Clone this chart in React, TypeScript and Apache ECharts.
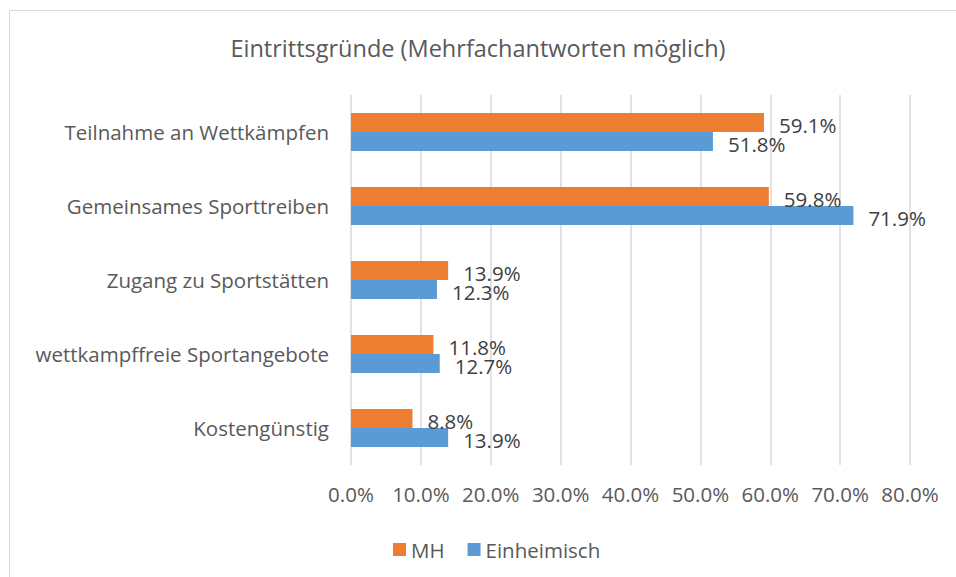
import React, { useEffect, useRef } from "react";
import * as echarts from "echarts";

const categories = [
  "Teilnahme an Wettkämpfen",
  "Gemeinsames Sporttreiben",
  "Zugang zu Sportstätten",
  "wettkampffreie Sportangebote",
  "Kostengünstig",
];
const mhValues = [59.1, 59.8, 13.9, 11.8, 8.8];
const einheimischValues = [51.8, 71.9, 12.3, 12.7, 13.9];
const seriesNames = ["MH", "Einheimisch"];
const titleText = "Eintrittsgründe (Mehrfachantworten möglich)";

const FONT = "'Open Sans', sans-serif";
const TEXT = "#595959";

export default function App() {
  const ref = useRef<HTMLDivElement>(null);
  useEffect(() => {
    if (!ref.current) return;
    const chart = echarts.init(ref.current, undefined, { renderer: "svg" });
    const label = {
      show: true,
      position: "right" as const,
      distance: 15,
      offset: [0, 2],
      color: "#404040",
      fontSize: 20.5,
      fontFamily: FONT,
      formatter: (p: any) => Number(p.value).toFixed(1) + "%",
    };
    chart.setOption({
      animation: false,
      backgroundColor: "#ffffff",
      textStyle: { fontFamily: FONT },
      title: {
        text: titleText,
        left: "center",
        top: 31,
        textStyle: { color: TEXT, fontSize: 23.5, fontWeight: "normal", fontFamily: FONT },
      },
      graphic: [
        {
          type: "rect",
          shape: { x: 9.5, y: 10.5, width: 980, height: 600 },
          style: { fill: "none", stroke: "#d9d9d9", lineWidth: 1 },
          silent: true,
        },
      ],
      legend: {
        data: seriesNames,
        left: 388,
        top: 534,
        itemWidth: 13,
        itemHeight: 13,
        itemGap: 23,
        icon: "rect",
        textStyle: { color: TEXT, fontSize: 20.5, fontFamily: FONT },
      },
      grid: { left: 351, right: 46, top: 95, bottom: 112, containLabel: false },
      xAxis: {
        type: "value",
        min: 0,
        max: 80,
        interval: 10,
        axisLine: { show: false },
        axisTick: { show: false },
        splitLine: { show: true, lineStyle: { color: "#d9d9d9", width: 1.5 } },
        axisLabel: {
          color: TEXT,
          fontSize: 20.5,
          fontFamily: FONT,
          margin: 18,
          formatter: (v: number) => v.toFixed(1) + "%",
        },
      },
      yAxis: {
        type: "category",
        inverse: true,
        data: categories,
        axisLine: { show: false },
        axisTick: { show: false },
        axisLabel: { color: TEXT, fontSize: 20.5, fontFamily: FONT, margin: 22 },
      },
      series: [
        {
          name: seriesNames[0],
          type: "bar",
          data: mhValues,
          barWidth: 19,
          barGap: "0%",
          itemStyle: { color: "#ED7D31" },
          label,
        },
        {
          name: seriesNames[1],
          type: "bar",
          data: einheimischValues,
          barWidth: 19,
          barGap: "0%",
          itemStyle: { color: "#5B9BD5" },
          label,
        },
      ],
    });
    return () => chart.dispose();
  }, []);
  return (
    <div
      ref={ref}
      style={{ position: "absolute", left: 0, top: 0, width: 956, height: 577 }}
    />
  );
}
